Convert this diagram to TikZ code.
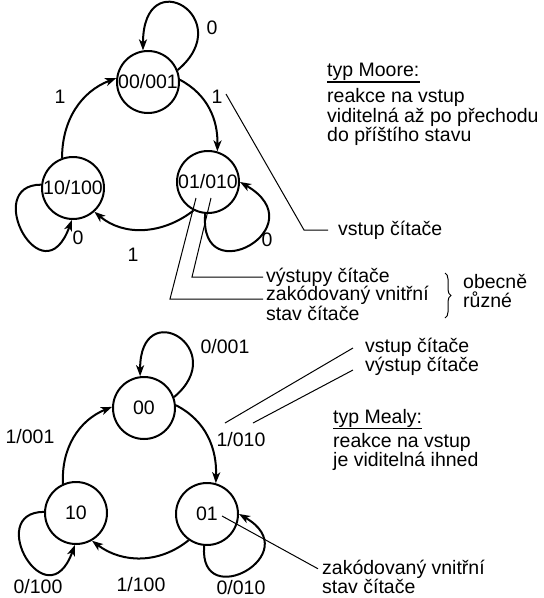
\documentclass[tikz,border=0pt]{standalone}
\usepackage{fontspec}
\setmainfont{Liberation Sans}
\usetikzlibrary{arrows.meta,decorations.pathreplacing}
\begin{document}
\begin{tikzpicture}[x=1pt,y=1pt,font=\fontsize{19.5}{19.5}\selectfont,
  state/.style={circle, draw, line width=2pt, minimum size=62pt, inner sep=0pt},
  edge/.style={line width=2pt, -{Stealth[length=11pt,width=8pt,inset=3pt]}},
  lead/.style={line width=1pt},
  txt/.style={inner sep=0pt, align=left, anchor=west},
  lbl/.style={inner sep=0pt},
  ul/.style={line width=1.3pt}]
\fill[white] (0,0) rectangle (544,-598);
\useasboundingbox (0,0) rectangle (544,-598);

% ---------- Moore ----------
\node[state] (n00) at (148,-82) {00/001};
\node[state] (n10) at (73,-188) {10/100};
\node[state] (n01) at (208,-182) {01/010};

\draw[edge] (n00.4) to[out=-28, in=89] (n01.73);
\draw[edge] (n01.-117) to[out=-142, in=-40] (n10.-48);
\draw[edge] (n10.110) to[out=90, in=-159] (n00.173);
\draw[edge] (n00.22) .. controls +(40:80) and +(90:90) .. (n00.99);
\draw[edge] (n10.174) .. controls +(180:60) and +(-110:85) .. (n10.-92);
\draw[edge] (n01.-95) .. controls +(-95:80) and +(-30:90) .. (n01.0);

\node[lbl] (a1) at (212,-28) {0};
\node[lbl] (a2) at (217,-97) {1};
\node[lbl] (a3) at (60,-97) {1};
\node[lbl] (a4) at (133,-255) {1};
\node[lbl] (a5) at (78,-238) {0};
\node[lbl] (a6) at (267,-240) {0};

\node[txt] (tm) at (327,-72) {typ Moore:};
\draw[ul] ([yshift=-1pt]tm.south west) -- ([yshift=-1pt]tm.south east);
\node[txt] (tmd) at (327,-117) {reakce na vstup\\viditelná až po přechodu\\do příštího stavu};

\node[txt] (vs) at (338,-230) {vstup čítače};
\coordinate (p1) at (226,-94);
\draw[lead] (p1) -- (304,-230) -- ([xshift=-10pt]vs.west);

\node[txt] (vy) at (266,-277) {výstupy čítače};
\coordinate (q1) at (211,-198);
\draw[lead] ([xshift=-3pt]vy.west) -- ++(-71,0) -- (q1);

\node[txt, anchor=north west] (zv) at (266,-286) {zakódovaný vnitřní\\stav čítače};
\coordinate (q2) at (196,-198);
\draw[lead] ([shift={(-3,-13)}]zv.north west) -- ++(-93,0) -- (q2);

\draw[line width=1pt, decorate, decoration={brace, amplitude=6pt}] (445,-273) -- (445,-318);
\node[txt] (ob) at (463,-291) {obecně\\různé};

% ---------- Mealy ----------
\node[state] (m00) at (144,-408) {00};
\node[state] (m10) at (76,-513) {10};
\node[state] (m01) at (207,-514) {01};

\draw[edge] (m00.5) to[out=-27, in=88] (m01.74);
\draw[edge] (m01.-125) to[out=-141, in=-37] (m10.-60);
\draw[edge] (m10.114) to[out=93, in=-158] (m00.178);
\draw[edge] (m00.20) .. controls +(40:75) and +(90:82) .. (m00.97);
\draw[edge] (m10.178) .. controls +(180:60) and +(-110:82) .. (m10.-92);
\draw[edge] (m01.-95) .. controls +(-95:68) and +(-30:80) .. (m01.0);

\node[lbl] (b1) at (225,-347) {0/001};
\node[lbl] (b2) at (241,-440) {1/010};
\node[lbl] (b3) at (30,-437) {1/001};
\node[lbl] (b4) at (141,-585) {1/100};
\node[lbl] (b5) at (38,-587) {0/100};
\node[lbl] (b6) at (241,-588) {0/010};

\node[txt] (vv) at (365,-357) {vstup čítače\\výstup čítače};
\coordinate (r1) at (225,-423);
\coordinate (r2) at (253,-423);
\draw[lead] ([shift={(-12,9)}]vv.west) -- (r1);
\draw[lead] ([shift={(-12,-13)}]vv.west) -- (r2);

\node[txt] (tme) at (333,-418) {typ Mealy:};
\draw[ul] ([yshift=-1pt]tme.south west) -- ([yshift=-1pt]tme.south east);
\node[txt] (tmed) at (333,-452) {reakce na vstup\\je viditelná ihned};

\node[txt] (zb) at (322,-577) {zakódovaný vnitřní\\stav čítače};
\coordinate (r3) at (222,-516);
\draw[lead] ([shift={(-4,-9)}]zb.north west) -- (r3);
\end{tikzpicture}
\end{document}
